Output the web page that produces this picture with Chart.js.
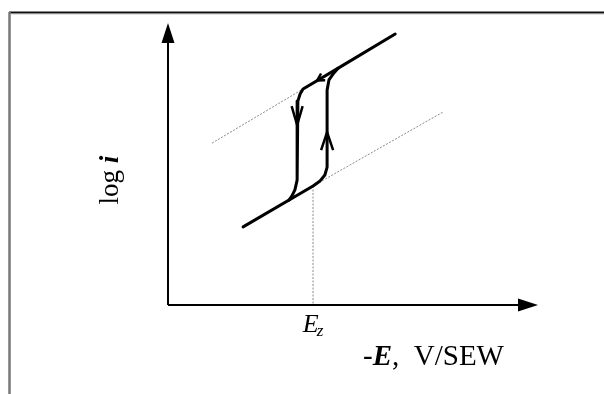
<!DOCTYPE html>
<html>
<head>
<meta charset="utf-8">
<script src="https://cdn.jsdelivr.net/npm/chart.js@4/dist/chart.umd.min.js"></script>
<style>
  html, body { margin: 0; padding: 0; background: #fff; }
  #c { display: block; }
</style>
</head>
<body>
<canvas id="c" width="604" height="394"></canvas>
<script>
// Axis ranges (arbitrary units): -E horizontally, log i vertically
const axisMin = 0;
const axisMax = 10;

// Forward scan: lower branch, jump up at the right leg, upper branch
const scanE    = [2.03, 3.92, 4.11, 4.24, 4.30, 4.30, 4.35, 4.46, 4.59, 6.14];
const scanLogI = [2.77, 4.22, 4.40, 4.61, 4.89, 7.62, 7.98, 8.19, 8.39, 9.61];

// Reverse scan: runs back along the upper branch, then drops to the lower branch
const returnE    = [4.59, 3.65, 3.57, 3.51, 3.49, 3.49, 3.43, 3.35, 3.27];
const returnLogI = [8.39, 7.66, 7.48, 7.23, 6.92, 4.43, 4.08, 3.87, 3.72];

// Extrapolated Tafel lines
const upperTafelE    = [1.19, 3.65];
const upperTafelLogI = [5.74, 7.66];
const lowerTafelE    = [3.92, 7.43];
const lowerTafelLogI = [4.22, 6.84];

// Zero-charge potential marker
const EzValue = 3.92;
const EzLogI  = 4.22;
const tickLabels = ['E', 'z'];

// Direction arrows on the loop
const arrowE    = [3.49, 4.30, 4.03];
const arrowLogI = [6.38, 6.13, 7.96];
const arrowDir  = ['down', 'up', 'back'];

const xyPairs = (xs, ys) => xs.map((x, i) => ({ x: x, y: ys[i] }));

const SERIF = '"Liberation Serif", "DejaVu Serif", serif';

const decor = {
  id: 'decor',
  beforeDraw(chart) {
    const c = chart.ctx;
    c.save();
    c.fillStyle = '#fff';
    c.fillRect(0, 0, chart.width, chart.height);
    // frame
    c.strokeStyle = '#111';
    c.lineWidth = 2;
    c.beginPath();
    c.moveTo(9, 12.5);
    c.lineTo(chart.width, 12.5);
    c.stroke();
    c.strokeStyle = '#e4e4e4';
    c.lineWidth = 1;
    c.beginPath();
    c.moveTo(11, 14.5);
    c.lineTo(chart.width, 14.5);
    c.stroke();
    c.strokeStyle = '#777';
    c.lineWidth = 2.5;
    c.beginPath();
    c.moveTo(9.5, 12);
    c.lineTo(9.5, chart.height);
    c.stroke();
    c.restore();
  },
  beforeDatasetsDraw(chart) {
    const c = chart.ctx;
    const xs = chart.scales.x, ys = chart.scales.y;
    const x0 = xs.getPixelForValue(axisMin), y0 = ys.getPixelForValue(axisMin);
    const xTip = xs.getPixelForValue(axisMax), yTip = ys.getPixelForValue(axisMax);
    c.save();
    c.strokeStyle = '#000';
    c.fillStyle = '#000';
    c.lineWidth = 2;
    c.beginPath();
    c.moveTo(x0, y0);
    c.lineTo(x0, yTip + 18);
    c.moveTo(x0, y0);
    c.lineTo(xTip - 18, y0);
    c.stroke();
    // arrowheads of the axes
    c.beginPath();
    c.moveTo(x0, yTip);
    c.lineTo(x0 - 6.5, yTip + 20);
    c.lineTo(x0 + 6.5, yTip + 20);
    c.closePath();
    c.fill();
    c.beginPath();
    c.moveTo(xTip, y0);
    c.lineTo(xTip - 20, y0 - 6.5);
    c.lineTo(xTip - 20, y0 + 6.5);
    c.closePath();
    c.fill();
    c.restore();
  },
  afterDatasetsDraw(chart) {
    const c = chart.ctx;
    const xs = chart.scales.x, ys = chart.scales.y;
    c.save();
    // loop direction arrows (open chevrons)
    c.strokeStyle = '#000';
    c.lineWidth = 2.5;
    c.lineJoin = 'miter';
    arrowE.forEach((e, i) => {
      const px = xs.getPixelForValue(e), py = ys.getPixelForValue(arrowLogI[i]);
      let ux, uy, len, half;
      if (arrowDir[i] === 'down') { ux = 0; uy = 1; len = 19; half = 5.5; }
      else if (arrowDir[i] === 'up') { ux = 0; uy = -1; len = 18; half = 6; }
      else { const n = Math.hypot(1, 0.598); ux = -1 / n; uy = 0.598 / n; len = 7; half = 4; }
      const bx = px - ux * len, by = py - uy * len;
      c.beginPath();
      c.moveTo(bx - uy * half, by + ux * half);
      c.lineTo(px, py);
      c.lineTo(bx + uy * half, by - ux * half);
      c.stroke();
    });
    // Ez tick label
    c.fillStyle = '#000';
    const ex = xs.getPixelForValue(EzValue);
    c.font = 'italic 26px ' + SERIF;
    const wE = c.measureText(tickLabels[0]).width;
    c.font = 'italic 17px ' + SERIF;
    const wz = c.measureText(tickLabels[1]).width;
    const startX = ex - (wE + wz) / 2 + 1;
    c.textBaseline = 'alphabetic';
    c.textAlign = 'left';
    c.font = 'italic 26px ' + SERIF;
    c.fillText(tickLabels[0], startX, 332);
    c.font = 'italic 17px ' + SERIF;
    c.fillText(tickLabels[1], startX + wE - 2, 336);

    // horizontal axis title
    const parts = [
      ['-', '29px ' + SERIF],
      ['E', 'italic bold 29px ' + SERIF],
      [',  V/SEW', '29px ' + SERIF]
    ];
    let tx = 363;
    parts.forEach(p => {
      c.font = p[1];
      c.fillText(p[0], tx, 365);
      tx += c.measureText(p[0]).width;
    });

    // vertical axis title
    c.translate(118, 180);
    c.rotate(-Math.PI / 2);
    c.font = '27px ' + SERIF;
    const wLog = c.measureText('log ').width;
    c.font = 'italic bold 27px ' + SERIF;
    const wI = c.measureText('i').width;
    let lx = -(wLog + wI) / 2;
    c.font = '27px ' + SERIF;
    c.fillText('log ', lx, 0);
    c.font = 'italic bold 27px ' + SERIF;
    c.fillText('i', lx + wLog, 0);
    c.restore();
  }
};

const thick = { showLine: true, borderColor: '#000', borderWidth: 3, pointRadius: 0,
                fill: false, tension: 0, borderJoinStyle: 'round', borderCapStyle: 'round' };
const dotted = { showLine: true, borderColor: '#8a8a8a', borderWidth: 1, pointRadius: 0,
                 fill: false, tension: 0, borderDash: [2, 1.5] };

new Chart(document.getElementById('c').getContext('2d'), {
  type: 'scatter',
  data: {
    datasets: [
      Object.assign({ label: 'forward scan', data: xyPairs(scanE, scanLogI) }, thick),
      Object.assign({ label: 'reverse scan', data: xyPairs(returnE, returnLogI) }, thick),
      Object.assign({ label: 'upper Tafel line', data: xyPairs(upperTafelE, upperTafelLogI) }, dotted),
      Object.assign({ label: 'lower Tafel line', data: xyPairs(lowerTafelE, lowerTafelLogI) }, dotted),
      Object.assign({ label: 'Ez', data: [{ x: EzValue, y: EzLogI }, { x: EzValue, y: axisMin }] }, dotted)
    ]
  },
  options: {
    responsive: false,
    animation: false,
    events: [],
    layout: { padding: { left: 168, right: 66, top: 23, bottom: 89 } },
    scales: {
      x: { type: 'linear', min: axisMin, max: axisMax, display: false },
      y: { type: 'linear', min: axisMin, max: axisMax, display: false }
    },
    plugins: { legend: { display: false }, tooltip: { enabled: false } }
  },
  plugins: [decor]
});
</script>
</body>
</html>
